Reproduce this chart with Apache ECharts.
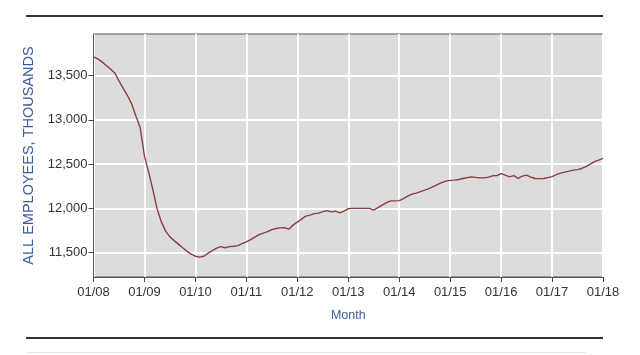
<!DOCTYPE html>
<html>
<head>
<meta charset="utf-8">
<script src="https://cdn.jsdelivr.net/npm/echarts@6/dist/echarts.min.js"></script>
<style>
  html, body { margin: 0; padding: 0; background: #fff; }
  #chart { width: 640px; height: 355px; }
</style>
</head>
<body>
<div id="chart"></div>
<script>
// 每年的月度数据（千人）
const years = ['08', '09', '10', '11', '12', '13', '14', '15', '16', '17']
const v2008 = [13712, 13690, 13655, 13615, 13575, 13530, 13440, 13355, 13275, 13180, 13042, 12912]
const v2009 = [12590, 12410, 12206, 11991, 11845, 11743, 11678, 11636, 11596, 11556, 11517, 11483]
const v2010 = [11460, 11449, 11460, 11494, 11522, 11551, 11568, 11556, 11568, 11573, 11579, 11602]
const v2011 = [11622, 11647, 11675, 11703, 11720, 11737, 11760, 11773, 11780, 11782, 11765, 11811]
const v2012 = [11845, 11878, 11912, 11924, 11941, 11946, 11963, 11974, 11961, 11969, 11950, 11969]
const v2013 = [11997, 12000, 12000, 12000, 12000, 12000, 11980, 12008, 12037, 12065, 12085, 12085]
const v2014 = [12088, 12110, 12138, 12161, 12172, 12189, 12206, 12223, 12246, 12268, 12291, 12308]
const v2015 = [12316, 12319, 12327, 12338, 12347, 12356, 12350, 12345, 12345, 12353, 12368, 12370]
const v2016 = [12393, 12376, 12356, 12370, 12338, 12364, 12376, 12353, 12338, 12336, 12338, 12347]
const v2017 = [12359, 12381, 12398, 12410, 12421, 12432, 12438, 12451, 12472, 12500, 12528, 12545]
const v2018 = [12564]

// y轴刻度
const yTicks = [11500, 12000, 12500, 13000, 13500]

/* 类目：MM/YY */
const months = []
years.forEach(y => {
  for (let m = 1; m <= 12; m++) {
    months.push((m < 10 ? '0' + m : '' + m) + '/' + y)
  }
})
months.push('01/18')

const values = [].concat(v2008, v2009, v2010, v2011, v2012, v2013, v2014, v2015, v2016, v2017, v2018)

const chart = echarts.init(document.getElementById('chart'))
chart.setOption({
  animation: false,
  textStyle: { fontFamily: 'Liberation Sans, Arial, sans-serif' },
  grid: {
    left: 93.5,
    right: 37,
    top: 34,
    bottom: 78,
    show: true,
    backgroundColor: '#dddcdd',
    borderColor: '#555',
    borderWidth: 1
  },
  /* 上下两条黑色分隔线 */
  graphic: [
    { type: 'rect', shape: { x: 26, y: 15, width: 577, height: 2 }, style: { fill: '#333' } },
    { type: 'rect', shape: { x: 26, y: 337, width: 577, height: 2 }, style: { fill: '#333' } },
    { type: 'rect', shape: { x: 26, y: 352, width: 560, height: 1 }, style: { fill: '#e6e6e6' } }
  ],
  xAxis: {
    type: 'category',
    data: months,
    boundaryGap: false,
    name: 'Month',
    nameLocation: 'middle',
    nameGap: 32,
    nameTextStyle: { color: '#3d5a9a', fontSize: 12.5 },
    axisLine: { lineStyle: { color: '#555' } },
    axisTick: { interval: 11, length: 5, lineStyle: { color: '#444' } },
    axisLabel: {
      interval: 11,
      color: '#333',
      fontSize: 13,
      margin: 9,
      formatter: v => v
    },
    splitLine: { show: true, interval: 11, lineStyle: { color: '#fff', width: 2 } }
  },
  yAxis: {
    type: 'value',
    min: 11225,
    max: 13970,
    name: 'ALL EMPLOYEES, THOUSANDS',
    nameLocation: 'middle',
    nameGap: 55,
    nameTextStyle: { color: '#3d5a9a', fontSize: 14.5 },
    axisLine: { show: true, lineStyle: { color: '#555' } },
    axisTick: { show: true, length: 5, customValues: yTicks, lineStyle: { color: '#444' } },
    axisLabel: {
      customValues: yTicks,
      color: '#333',
      fontSize: 13,
      margin: 6,
      formatter: v => v.toLocaleString('en-US')
    },
    splitLine: { show: true, lineStyle: { color: '#fff', width: 2 } }
  },
  series: [
    {
      name: 'All Employees',
      type: 'line',
      data: values,
      showSymbol: false,
      symbol: 'none',
      lineStyle: { color: '#8a3d47', width: 1.4 }
    }
  ]
})
</script>
</body>
</html>
